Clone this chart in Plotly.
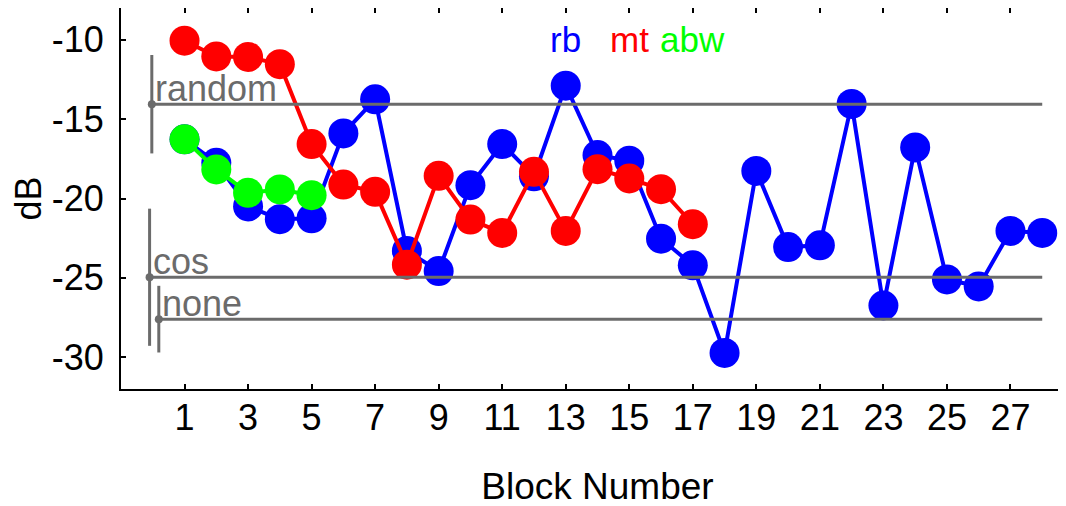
import plotly.graph_objects as go

# ---- data ----
blocks_rb = list(range(1, 29))
rb = [-16.27, -17.75, -20.5, -21.3, -21.25, -15.9, -13.75, -23.3, -24.57, -19.16,
      -16.57, -18.6, -12.89, -17.26, -17.62, -22.53, -24.21, -29.73, -18.26, -23.06,
      -22.95, -14.04, -26.74, -16.78, -25.1, -25.54, -22.04, -22.17]

blocks_mt = list(range(1, 18))
mt = [-10.06, -11.05, -11.08, -11.54, -16.57, -19.12, -19.58, -24.17, -18.57, -21.33,
      -22.17, -18.32, -22.04, -18.15, -18.74, -19.41, -21.62]

blocks_abw = list(range(1, 6))
abw = [-16.27, -18.17, -19.64, -19.43, -19.79]

ref_names = ["random", "cos", "none"]
ref_levels = [-14.06, -24.96, -27.6]
ref_x = [-0.03, -0.10, 0.19]
ref_err = [3.1, 4.32, 2.1]
ref_end = 28

legend_names = ["rb", "mt", "abw"]
legend_x = [13, 15, 17]
legend_y = -10.84

x_ticks = list(range(1, 28, 2))
y_ticks = [-30, -25, -20, -15, -10]

# ---- styles ----
FONT = "Liberation Sans, Arial, sans-serif"
GRAY = "#6b6b6b"
colors = {"rb": "#0000ff", "mt": "#ff0000", "abw": "#00ff00"}

fig = go.Figure()

for name, xs, ys in [("rb", blocks_rb, rb), ("mt", blocks_mt, mt), ("abw", blocks_abw, abw)]:
    fig.add_trace(go.Scatter(
        x=xs, y=ys, mode="lines+markers", name=name,
        line=dict(color=colors[name], width=4),
        marker=dict(color=colors[name], size=30, line=dict(width=0)),
        showlegend=False, cliponaxis=False,
    ))

# reference levels: horizontal line, end dot with vertical error bar
for name, lvl, x0, err in zip(ref_names, ref_levels, ref_x, ref_err):
    fig.add_trace(go.Scatter(
        x=[x0, ref_end], y=[lvl, lvl], mode="lines",
        line=dict(color=GRAY, width=3), showlegend=False,
    ))
    fig.add_trace(go.Scatter(
        x=[x0], y=[lvl], mode="markers",
        marker=dict(color=GRAY, size=8),
        error_y=dict(type="data", array=[err], symmetric=True, color=GRAY,
                     thickness=3, width=0),
        showlegend=False,
    ))
    fig.add_annotation(
        x=x0, y=lvl, xref="x", yref="y", text=name, showarrow=False,
        xanchor="left", yanchor="bottom", xshift=1, yshift=-7,
        font=dict(family=FONT, size=36, color=GRAY),
    )

for name, lx in zip(legend_names, legend_x):
    fig.add_annotation(
        x=lx, y=legend_y, xref="x", yref="y", text=name, showarrow=False,
        xanchor="center", yanchor="bottom", yshift=-8,
        font=dict(family=FONT, size=35, color=colors[name]),
    )

fig.update_layout(
    width=1066, height=506,
    margin=dict(l=113, r=0, t=0, b=125),
    paper_bgcolor="white", plot_bgcolor="white",
    font=dict(family=FONT, size=36, color="black"),
)
fig.update_xaxes(
    range=[-1.0, 29.0], tickvals=x_ticks, ticktext=[str(v) for v in x_ticks],
    ticks="inside", ticklen=5, tickwidth=1.5, tickcolor="black",
    showline=True, linecolor="black", linewidth=2, mirror="ticks",
    showgrid=False, zeroline=False, automargin=False,
    tickfont=dict(family=FONT, size=36),
    ticklabelstandoff=-4,
    title=dict(text="Block Number", font=dict(family=FONT, size=37), standoff=36),
)
fig.update_yaxes(
    range=[-32, -8], tickvals=y_ticks, ticktext=[str(v) for v in y_ticks],
    ticks="inside", ticklen=5, tickwidth=1.5, tickcolor="black",
    showline=True, linecolor="black", linewidth=2, mirror=False,
    showgrid=False, zeroline=False, automargin=False,
    tickfont=dict(family=FONT, size=36),
    ticklabelstandoff=8,
    title=dict(text="dB", font=dict(family=FONT, size=36), standoff=5),
)

fig.write_html("out.html")
